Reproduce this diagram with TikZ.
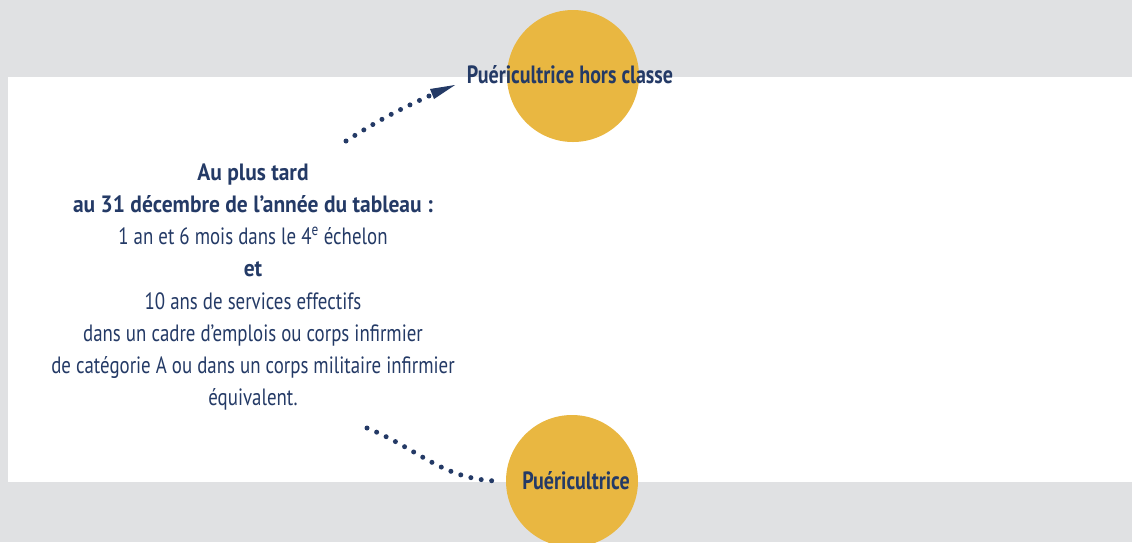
\documentclass[tikz,border=0pt]{standalone}
\usepackage{fontspec}
\setmainfont{PT Sans}[FakeStretch=0.8, BoldFeatures={FakeStretch=0.91}]
\newfontfamily\lblfont{PT Sans}[FakeStretch=0.8, BoldFeatures={FakeStretch=0.8}]
\usetikzlibrary{arrows.meta, positioning}

\definecolor{navy}{HTML}{243A66}
\definecolor{gold}{HTML}{E9B741}
\definecolor{bggray}{HTML}{E0E1E3}

\begin{document}
\begin{tikzpicture}[
			x=1pt, y=-1pt,
			grade/.style={circle, fill=gold, minimum size=132pt, inner sep=0pt},
			gradelbl/.style={font=\lblfont\fontsize{25}{28}\selectfont\bfseries, text=navy, inner sep=0pt},
			cond/.style={align=center, text=navy, font=\fontsize{23.6}{32.2}\selectfont, inner sep=0pt},
			dotline/.style={navy, line width=5pt, line cap=round, dash pattern=on 0pt off 10.5pt},
		]
		% fond
		\fill [bggray] (0,0) rectangle (1132,542);
		\fill [white] (8,77) rectangle (1132,482);
		\useasboundingbox (0,0) rectangle (1132,542);

		\node (hc)   [grade] at (573,76)  {};
		\node (puer) [grade] at (572,481) {};
		\node (hclbl)   [gradelbl] at (570,75)  {Puéricultrice hors classe};
		\node (puerlbl) [gradelbl] at (576,481) {Puéricultrice};

		\node (txt) [cond] at (253,287) {%
			\textbf{Au plus tard}\\
			\textbf{au 31 décembre de l’année du tableau :}\\
			1 an et 6 mois dans le 4\textsuperscript{e} échelon\\
			\textbf{et}\\
			10 ans de services effectifs\\
			dans un cadre d’emplois ou corps infirmier\\
			de catégorie A ou dans un corps militaire infirmier\\
			équivalent.};

		\coordinate (top) at (346,141);
		\coordinate (bot) at (367,428);
		\coordinate (tip) at (455,85);

		% vers la classe supérieure
		\draw [dotline] (top) to[bend left=4] (429,96);
		\fill [navy] (tip) -- (430,89) -- (434,99) -- cycle;
		% depuis le grade de base
		\draw [dotline] (bot) to[out=-22, in=178] ([xshift=-9pt]puer.west);
	\end{tikzpicture}
\end{document}
